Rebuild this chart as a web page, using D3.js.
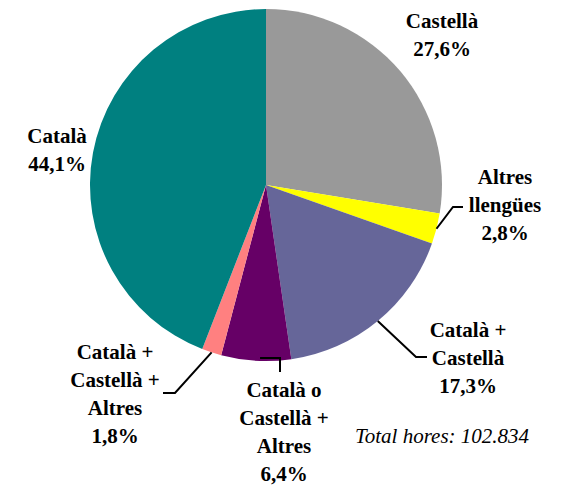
<!DOCTYPE html>
<html>
<head>
<meta charset="UTF-8">
<script src="https://cdn.jsdelivr.net/npm/d3@7/dist/d3.min.js"></script>
<style>
  svg text { font-family: "Liberation Serif", "Times New Roman", serif !important; }
</style>
</head>
<body style="margin:0">
<script>
    // dades
    const categories = ['Castellà', 'Altres llengües', 'Català + Castellà',
        'Català o Castellà + Altres', 'Català + Castellà + Altres', 'Català'];
    const values = [27.6, 2.8, 17.3, 6.4, 1.8, 44.1];
    const labelLines = [
        ['Castellà'],
        ['Altres', 'llengües'],
        ['Català +', 'Castellà'],
        ['Català o', 'Castellà +', 'Altres'],
        ['Català +', 'Castellà +', 'Altres'],
        ['Català']
    ];
    const totalText = 'Total hores: 102.834';

    const colors = ['#999999', '#ffff00', '#666699', '#660066', '#ff8080', '#008080'];

    const w = 562, h = 486;
    const cx = 266, cy = 185, r = 176;
    const lineH = 28;

    // posicio de les etiquetes (x centre, y primera línia) i guies
    const layout = [
        { x: 442, y: 28 },
        { x: 505, y: 184, elbow: [453, 207], end: [463, 207] },
        { x: 468, y: 337, elbow: [416, 357], end: [427, 357] },
        { x: 284, y: 397, elbow: [280, 358], end: [280, 372], horizFirst: true },
        { x: 115, y: 359, elbow: [175, 393], end: [163, 393] },
        { x: 57, y: 143 }
    ];

    const fmt = v => d3.format('.1f')(v).replace('.', ',') + '%';

    let svg = d3.select('body')
        .append('svg')
        .attr('width', w)
        .attr('height', h);

    // etiquetes primer
    categories.forEach((c, i) => {
        let L = layout[i];
        let lines = labelLines[i].concat([fmt(values[i])]);
        lines.forEach((s, k) => {
            svg.append('text')
                .attr('x', L.x)
                .attr('y', L.y + k * lineH)
                .attr('font-family', 'Liberation Serif')
                .attr('font-size', 21)
                .attr('font-weight', 'bold')
                .attr('text-anchor', 'middle')
                .text(s);
        });
    });

    svg.append('text')
        .attr('x', 355)
        .attr('y', 443)
        .attr('font-family', 'Liberation Serif')
        .attr('font-size', 21)
        .attr('font-style', 'italic')
        .text(totalText);

    let pie = d3.pie().sort(null).value(d => d);
    let arcs = pie(values);
    let arc = d3.arc().innerRadius(0).outerRadius(r);

    let g = svg.append('g').attr('transform', `translate(${cx},${cy})`);
    g.selectAll('path')
        .data(arcs)
        .enter()
        .append('path')
        .attr('d', arc)
        .attr('fill', (d, i) => colors[i]);

    // línies guia
    arcs.forEach((d, i) => {
        let L = layout[i];
        if (!L.elbow) return;
        let a = (d.startAngle + d.endAngle) / 2;
        let sx = cx + r * Math.sin(a), sy = cy - r * Math.cos(a);
        let pts;
        if (L.horizFirst) {
            pts = [[sx + 4, L.elbow[1]], L.elbow, L.end];
        } else {
            pts = [[sx, sy], L.elbow, L.end];
        }
        svg.append('path')
            .attr('d', d3.line()(pts))
            .attr('fill', 'none')
            .attr('stroke', '#000')
            .attr('stroke-width', 2);
    });
</script>
</body>
</html>
